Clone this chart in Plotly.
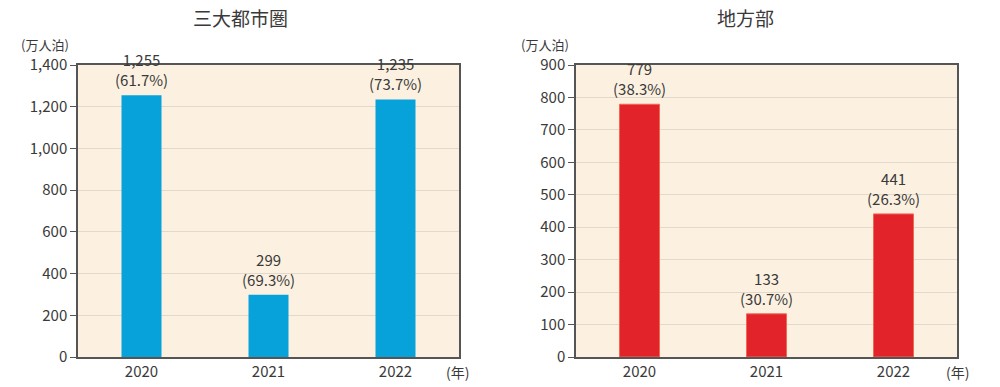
import plotly.graph_objects as go

years = ["2020", "2021", "2022"]
metro_values = [1255, 299, 1235]
metro_shares = ["61.7%", "69.3%", "73.7%"]
local_values = [779, 133, 441]
local_shares = ["38.3%", "30.7%", "26.3%"]

metro_title = "三大都市圏"
local_title = "地方部"
unit_label = "(万人泊)"
year_label = "(年)"

FONT = "Noto Sans CJK JP, Noto Sans, sans-serif"
TXT = "#3a3a3a"
BG = "#FCF1E1"
GRID = "#E2D8CB"
AXIS = "#555555"

fig = go.Figure()

fig.add_trace(go.Bar(x=years, y=metro_values, marker=dict(color="#08A2DA", line=dict(width=0)),
                     width=0.315, xaxis="x", yaxis="y", showlegend=False, hoverinfo="x+y"))
fig.add_trace(go.Bar(x=years, y=local_values, marker=dict(color="#E2232A", line=dict(width=1, color="#EE6A55")),
                     width=0.315, xaxis="x2", yaxis="y2", showlegend=False, hoverinfo="x+y"))

ydom = [1 - 357 / 387, 1 - 65 / 387]
common_x = dict(type="category", range=[-0.5, 2.5], showgrid=False, showline=True, linecolor=AXIS,
                linewidth=1.5, mirror=True, ticks="", tickfont=dict(family=FONT, size=15, color=TXT),
                fixedrange=True, automargin=False)
common_y = dict(showgrid=True, gridcolor=GRID, gridwidth=1, showline=True, linecolor=AXIS,
                linewidth=1.5, mirror=True, ticks="outside", ticklen=6, tickcolor=AXIS,
                tickfont=dict(family=FONT, size=15, color=TXT), zeroline=False, fixedrange=True,
                automargin=False)

fig.update_layout(
    width=1000, height=387,
    margin=dict(l=0, r=0, t=0, b=0, pad=0),
    paper_bgcolor="white",
    plot_bgcolor=BG,
    xaxis=dict(domain=[0.078, 0.459], anchor="y", **common_x),
    yaxis=dict(domain=ydom, anchor="x", range=[0, 1400], dtick=200, tickformat=",d", **common_y),
    xaxis2=dict(domain=[0.576, 0.957], anchor="y2", **common_x),
    yaxis2=dict(domain=ydom, anchor="x2", range=[0, 900], dtick=100, **common_y),
)

annotations = []
for i, (v, s) in enumerate(zip(metro_values, metro_shares)):
    annotations.append(dict(x=i, y=v, xref="x", yref="y", text=f"{v:,}<br>({s})", showarrow=False,
                            yanchor="bottom", yshift=3, font=dict(family=FONT, size=15, color=TXT)))
for i, (v, s) in enumerate(zip(local_values, local_shares)):
    annotations.append(dict(x=i, y=v, xref="x2", yref="y2", text=f"{v:,}<br>({s})", showarrow=False,
                            yanchor="bottom", yshift=3, font=dict(family=FONT, size=15, color=TXT)))


def paper_note(x, y, text, size):
    return dict(x=x, y=1 - y / 387, xref="paper", yref="paper", text=text, showarrow=False,
                xanchor="center", yanchor="middle", font=dict(family=FONT, size=size, color=TXT))


annotations += [
    paper_note(0.24, 18, metro_title, 19),
    paper_note(0.745, 18, local_title, 19),
    paper_note(0.045, 44, unit_label, 13),
    paper_note(0.545, 44, unit_label, 13),
    paper_note(0.457, 372, year_label, 14),
    paper_note(0.957, 372, year_label, 14),
]
fig.update_layout(annotations=annotations)

fig.write_html("out.html", config={"displayModeBar": False},
               post_script="document.body.style.margin='0';")
